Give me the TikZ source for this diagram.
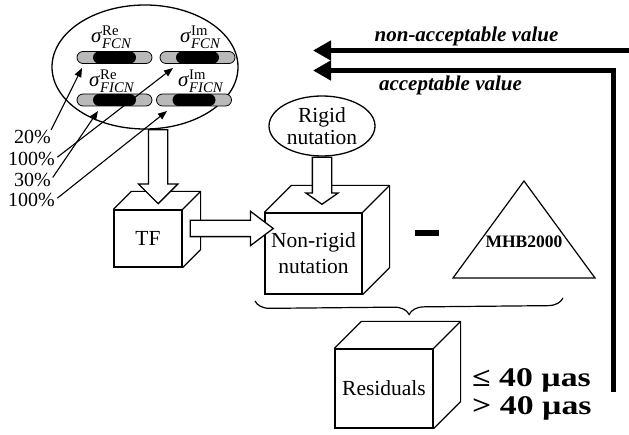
\documentclass[tikz,border=0pt]{standalone}
\usepackage{fontspec}
\setmainfont{Liberation Serif}
\usepackage{amsmath}
\usepackage{graphicx}
\usetikzlibrary{positioning, calc, arrows.meta, shapes.geometric, shapes.arrows, shapes.misc, decorations.pathreplacing}

% back and side faces of a box drawn behind a front-face node
\newcommand{\cubeside}[2]{%
  \draw[outline] (#1.north west) -- ++(#2,-#2) -| ($(#1.south east)+(#2,-#2)$) -- (#1.south east)
    (#1.north east) -- ++(#2,-#2);}
% sigma with upright superscript and italic subscript
\newcommand{\sigmalab}[2]{\textit{σ}$^{\text{#1}}_{\text{\itshape #2}}$}

\begin{document}
\begin{tikzpicture}[x=1pt, y=-1pt,
        outline/.style={line width=1.2pt},
        face/.style={draw, line width=1.2pt, fill=white, inner sep=0pt, align=center, font=\fontsize{21.5}{26}\selectfont},
        bar/.style={rounded rectangle, draw, line width=0.8pt, fill=gray!55, minimum width=75pt, minimum height=12pt, inner sep=0pt},
        core/.style={rounded rectangle, fill=black, minimum width=43pt, minimum height=12pt, inner sep=0pt},
        sig/.style={inner sep=0pt, anchor=base west, font=\fontsize{21}{21}\selectfont},
        pct/.style={inner sep=0pt, font=\fontsize{20}{20}\selectfont},
        pick/.style={line width=1.1pt, -{Triangle[length=9pt, width=7pt]}},
        hollow/.style={single arrow, draw, fill=white, line width=1.3pt, inner xsep=0pt, inner ysep=9pt, anchor=tail},
        fbline/.style={line width=5pt, -{Triangle[length=18pt, width=19pt]}},
        verdict/.style={inner sep=0pt, font=\bfseries\itshape\fontsize{21}{21}\selectfont},
        limit/.style={anchor=base west, inner sep=0pt, font=\bfseries\fontsize{27}{27}\selectfont}
    ]
        \useasboundingbox (0,0) rectangle (629,435);

        % --- PARAMETERS ---
        \node[draw, ellipse, line width=1.3pt, minimum width=186pt, minimum height=124pt] (pars) at (145,67) {};
        \node[sig] (sReF) at (91,43) {\sigmalab{Re}{FCN}};
        \node[sig] (sImF) at (180,43) {\sigmalab{Im}{FCN}};
        \node[sig] (sReI) at (89,87) {\sigmalab{Re}{FICN}};
        \node[sig] (sImI) at (178,87) {\sigmalab{Im}{FICN}};

        \node[bar] (bReF) at (114.5,57.5) {};
        \node[core] (cReF) at (bReF) {};
        \node[bar] (bImF) at (197.5,57.5) {};
        \node[core] (cImF) at (bImF) {};
        \node[bar] (bReI) at (114.5,100) {};
        \node[core] (cReI) at (bReI) {};
        \node[bar] (bImI) at (194,100) {};
        \node[core] (cImI) at (bImI) {};

        % --- PERCENTAGES ---
        \node[pct] (p20) at (32.5,137) {20\%};
        \node[pct] (p100a) at (31.5,159) {100\%};
        \node[pct] (p30) at (32.5,180) {30\%};
        \node[pct] (p100b) at (31.5,200) {100\%};

        \coordinate (tReF) at (82,68);
        \coordinate (tImF) at (173,68);
        \coordinate (tReI) at (98,111);
        \coordinate (tImI) at (167,111);

        \draw[pick] (p20.north east) -- (tReF);
        \draw[pick, shorten <=3pt] (p100a.east) -- (tImF);
        \draw[pick, shorten <=3pt] (p30.east) -- (tReI);
        \draw[pick, shorten <=3pt] (p100b.east) -- (tImI);

        % --- BOXES ---
        \node[face, minimum width=68pt, minimum height=57pt] (tf) at (148,238.5) {TF};
        \cubeside{tf}{18}
        \node[face, minimum width=97pt, minimum height=81pt] (nonrigid) at (313.5,253.5) {Non-rigid\\nutation};
        \cubeside{nonrigid}{27}
        \node[draw, ellipse, line width=1.3pt, minimum width=106pt, minimum height=60pt, inner sep=0pt, align=center,
              font=\fontsize{21.5}{22}\selectfont] (rigid) at (322,126) {Rigid\\nutation};

        % --- HOLLOW ARROWS ---
        \node[hollow, rotate=-90, minimum height=74pt, single arrow head extend=10pt] (drop) at (pars.-78) {};
        \node[hollow, minimum height=83pt, inner ysep=7.5pt, single arrow head extend=9pt, single arrow tip angle=74] (push) at ($(tf.east)+(7,-10)$) {};
        \node[hollow, rotate=-90, minimum height=47pt, single arrow head extend=6.5pt, single arrow tip angle=110] (feed) at (rigid.south) {};

        % --- DIFFERENCE ---
        \node[fill, minimum width=24pt, minimum height=6.5pt, inner sep=0pt] (minus) at (427,233) {};
        \draw[outline] (524,181) -- (453,278) -- (595,278) -- cycle;
        \node[inner sep=0pt, font=\bfseries\fontsize{17.5}{17.5}\selectfont] (mhb) at (524,242) {MHB2000};
        \draw[outline, decorate, decoration={brace, amplitude=15pt, mirror}] (255,301) -- (563,298);

        % --- RESIDUALS ---
        \node[face, minimum width=98pt, minimum height=79pt] (resid) at (384,388.5) {Residuals};
        \cubeside{resid}{27}
        \node[limit] (low) at (472,387) {\scalebox{1.25}[1]{≤ 40 µas}};
        \node[limit] (high) at (472,414) {\scalebox{1.25}[1]{> 40 µas}};

        % --- FEEDBACK ---
        \coordinate (accstart) at (613.5,392);
        \coordinate (accend) at (313,70.5);
        \coordinate (nacstart) at (640,50.5);
        \coordinate (nacend) at (313,50.5);
        \draw[fbline] (nacstart) -- (nacend);
        \draw[fbline] (accstart) |- (accend);
        \node[verdict] (nacl) at (466.5,36) {non-acceptable value};
        \node[verdict] (accl) at (450.5,85) {acceptable value};

    \end{tikzpicture}
\end{document}
